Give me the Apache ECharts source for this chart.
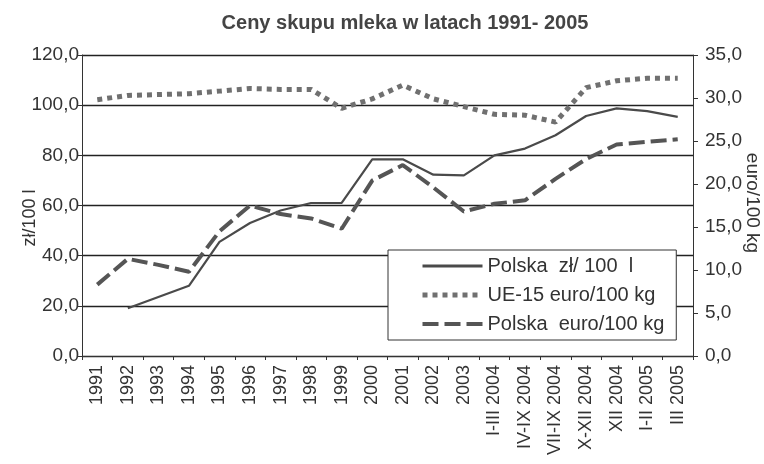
<!DOCTYPE html>
<html>
<head>
<meta charset="utf-8">
<script src="https://cdn.jsdelivr.net/npm/echarts@6/dist/echarts.min.js"></script>
<style>
  html, body { margin: 0; padding: 0; background: #fff; }
  #chart { width: 764px; height: 464px; }
</style>
</head>
<body>
<div id="chart"></div>
<script>
// okresy
const categories = [
  "1991", "1992", "1993", "1994", "1995", "1996", "1997", "1998", "1999", "2000",
  "2001", "2002", "2003", "I-III 2004", "IV-IX 2004", "VII-IX 2004", "X-XII 2004",
  "XII 2004", "I-II 2005", "III 2005"
];
// Polska zł/100 l (lewa oś)
const polskaZl = [
  null, 19.0, 23.5, 28.0, 45.5, 53.0, 58.0, 61.0, 61.0, 78.4,
  78.4, 72.3, 72.0, 80.0, 82.7, 88.0, 95.7, 98.7, 97.6, 95.3
];
// UE-15 euro/100 kg (prawa oś)
const ue15Euro = [
  29.8, 30.3, 30.4, 30.5, 30.8, 31.1, 31.0, 31.0, 28.8, 29.9,
  31.5, 29.9, 29.0, 28.1, 28.0, 27.2, 31.2, 32.0, 32.3, 32.3
];
// Polska euro/100 kg (prawa oś)
const polskaEuro = [
  8.3, 11.3, 10.6, 9.8, 14.5, 17.5, 16.5, 16.0, 14.8, 20.4,
  22.2, 19.6, 16.8, 17.7, 18.1, 20.6, 22.9, 24.6, 24.9, 25.2
];
const leftTicks = { min: 0, max: 120, interval: 20 };
const rightTicks = { min: 0, max: 35, interval: 5 };

const fmt = v => v.toFixed(1).replace(".", ",");
const font = "Liberation Sans, Arial, sans-serif";

const solid = { color: "#4a4a4a", width: 2.2 };
const dotted = { color: "#707070", width: 5, type: [5, 5], cap: "butt" };
const dashed = { color: "#555", width: 4, type: [16, 6], cap: "butt" };

const chart = echarts.init(document.getElementById("chart"));
chart.setOption({
  animation: false,
  backgroundColor: "#fff",
  title: {
    text: "Ceny skupu mleka w latach 1991- 2005",
    left: 400,
    textAlign: "center",
    top: 8,
    textStyle: { fontFamily: font, fontSize: 20, fontWeight: "bold", color: "#444" }
  },
  // nazwy osi
  graphic: [
    {
      type: "text", x: 30, y: 218, rotation: Math.PI / 2,
      style: { text: "zł/100 l", fontFamily: font, fontSize: 18, fill: "#333", align: "center", verticalAlign: "middle" }
    },
    {
      type: "text", x: 752, y: 203, rotation: -Math.PI / 2,
      style: { text: "euro/100 kg", fontFamily: font, fontSize: 19, fill: "#333", align: "center", verticalAlign: "middle" }
    }
  ],
  legend: {
    orient: "vertical",
    left: 388,
    top: 250,
    padding: [6, 12, 6, 32],
    itemGap: 9,
    itemWidth: 60,
    itemHeight: 20,
    backgroundColor: "#fff",
    borderColor: "#333",
    borderWidth: 1,
    itemStyle: { color: "transparent", borderWidth: 0 },
    textStyle: { fontFamily: font, fontSize: 20, color: "#333" },
    data: [
      { name: "Polska  zł/ 100  l", lineStyle: { width: 3, color: "#4a4a4a" } },
      { name: "UE-15 euro/100 kg", lineStyle: { width: 5, color: "#707070", type: [5, 5] } },
      { name: "Polska  euro/100 kg", lineStyle: { width: 4, color: "#555", type: [16, 6] } }
    ]
  },
  grid: { left: 82, right: 71, top: 55, bottom: 108, containLabel: false, outerBoundsMode: "none" },
  xAxis: {
    type: "category",
    data: categories,
    boundaryGap: true,
    axisLine: { lineStyle: { color: "#333", width: 1 } },
    axisTick: { show: true, length: 4, lineStyle: { color: "#333" } },
    axisLabel: { interval: 0, rotate: 90, margin: 9, fontFamily: font, fontSize: 18, color: "#333" }
  },
  yAxis: [
    {
      type: "value",
      min: leftTicks.min, max: leftTicks.max, interval: leftTicks.interval,
      axisLine: { show: true, lineStyle: { color: "#333", width: 1 } },
      axisTick: { show: true, length: 4, lineStyle: { color: "#333" } },
      axisLabel: { formatter: fmt, fontFamily: font, fontSize: 19, color: "#333", margin: 3 },
      splitLine: { show: true, lineStyle: { color: "#222", width: 1.3 } }
    },
    {
      type: "value",
      position: "right",
      min: rightTicks.min, max: rightTicks.max, interval: rightTicks.interval,
      axisLine: { show: true, lineStyle: { color: "#333", width: 1 } },
      axisTick: { show: true, length: 5, lineStyle: { color: "#333" } },
      axisLabel: { formatter: fmt, fontFamily: font, fontSize: 19, color: "#333", margin: 12 },
      splitLine: { show: false }
    }
  ],
  series: [
    {
      name: "Polska  zł/ 100  l",
      type: "line",
      yAxisIndex: 0,
      data: polskaZl,
      symbol: "none",
      z: 3,
      lineStyle: solid,
      itemStyle: { color: solid.color }
    },
    {
      name: "UE-15 euro/100 kg",
      type: "line",
      yAxisIndex: 1,
      data: ue15Euro,
      symbol: "none",
      z: 3,
      lineStyle: dotted,
      itemStyle: { color: dotted.color }
    },
    {
      name: "Polska  euro/100 kg",
      type: "line",
      yAxisIndex: 1,
      data: polskaEuro,
      symbol: "none",
      z: 3,
      lineStyle: dashed,
      itemStyle: { color: dashed.color }
    }
  ]
});
</script>
</body>
</html>
